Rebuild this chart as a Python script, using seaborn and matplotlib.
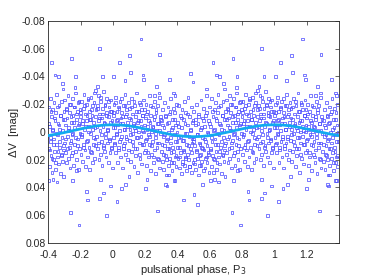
import numpy as np
import pandas as pd
import matplotlib
matplotlib.use("Agg")
import matplotlib.pyplot as plt
import seaborn as sns

# ---- data: base phases (x1000) in [0,1) and dV (mmag) ----
phase_dense = [
    2,5,7,10,13,15,18,21,23,26,29,31,34,37,39,42,45,48,50,53,56,58,61,64,66,69,72,75,77,80,83,86,89,92,95,98,
    101,104,106,109,112,115,117,120,123,125,128,131,134,136,139,142,145,147,150,153,155,158,161,164,166,169,172,174,177,180,183,185,188,191,194,197,
    200,203,206,208,211,214,216,219,222,225,227,230,233,235,238,241,244,246,249,252,255,257,260,263,265,268,271,274,276,279,282,285,287,290,293,296,
    301,303,306,309,312,314,317,320,322,325,328,331,333,336,339,342,344,347,350,353,355,358,361,363,366,369,372,374,377,380,383,385,388,391,394,397,
    401,404,406,409,412,414,417,420,423,425,428,431,433,436,439,442,444,447,450,452,455,458,461,463,466,469,472,474,477,480,483,485,488,491,494,497,
    500,502,505,508,511,513,516,519,521,524,527,530,532,535,538,541,543,546,549,551,554,557,560,562,565,568,571,573,576,579,582,584,587,590,593,596,
    601,603,606,609,612,614,617,620,623,625,628,631,633,636,639,642,644,647,650,652,655,658,661,663,666,669,672,674,677,680,683,685,688,691,694,697,
    700,703,705,708,711,714,716,719,722,724,727,730,733,735,738,741,743,746,749,752,754,757,760,763,765,768,771,773,776,779,782,784,787,790,793,796,
    800,803,806,808,811,814,817,819,822,825,827,830,833,836,838,841,844,846,849,852,855,857,860,863,865,868,871,874,876,879,882,885,887,890,893,896,
    901,903,906,909,912,914,917,920,922,925,928,931,933,936,939,942,944,947,950,952,955,958,961,963,966,969,972,974,977,980,983,985,988,991,994,997,
]
dv_dense = [
    -12,4,-20,9,-3,15,-25,-8,2,-15,22,-5,11,-18,-1,7,-22,18,-10,3,-14,26,-6,12,-19,-2,8,-27,16,-11,5,-16,20,-4,13,-21,
    6,-17,-2,21,-9,14,-24,1,-13,10,-6,25,-19,-3,17,-11,4,-28,12,-7,29,-15,0,8,-21,19,-8,3,-16,23,-1,-12,9,-23,15,-5,
    -10,13,-20,5,24,-4,-15,18,2,-26,9,-7,28,-12,0,16,-18,7,-3,22,-9,13,-22,4,30,-14,-1,11,-19,19,-6,8,-25,26,-11,1,
    14,-8,21,-16,3,27,-3,10,-21,17,-11,6,31,-6,12,-18,24,0,-13,19,8,-24,15,-2,28,-9,11,-17,22,2,-14,18,-5,25,-20,7,
    -7,19,4,-19,26,11,-12,15,-3,30,-16,21,6,-9,13,-22,24,1,18,-14,9,28,-5,16,-25,20,3,-11,25,-1,12,-18,29,8,-7,22,
    5,-15,23,10,-9,27,-20,14,2,19,-6,31,-13,8,24,-2,16,-23,11,21,-10,4,28,-17,13,-4,26,7,-12,18,-26,22,0,15,-8,29,
    -18,12,-4,25,-24,7,17,-11,29,-1,-16,20,5,-21,14,-8,27,-14,9,-27,18,2,-6,23,-19,11,-2,30,-12,16,-22,4,21,-9,13,-15,
    8,-23,15,-5,-17,22,-10,3,-26,19,-1,-14,11,26,-20,6,-7,17,-24,1,-12,24,-18,9,-3,-28,14,-9,20,-15,5,-21,27,-6,12,-16,
    -11,16,-22,2,-6,21,-17,9,-27,-2,13,-13,25,-8,-20,6,18,-24,-4,11,-15,27,-9,1,-25,15,-12,22,-19,4,-7,-28,19,-3,10,-16,
    3,-19,12,-8,-26,20,-13,-1,16,-22,7,-10,24,-17,-4,10,-29,14,-6,-20,1,18,-14,-24,8,-2,22,-11,-18,5,15,-23,-7,11,-15,26,
]
phase_core = [
    1,6,12,17,22,28,33,38,44,49,55,60,65,71,76,82,87,93,
    104,109,115,120,126,131,137,142,148,153,159,164,170,175,181,186,192,197,
    201,207,212,218,223,229,234,240,245,251,256,262,267,273,278,284,289,295,
    304,310,315,321,326,332,337,343,348,354,359,365,370,376,381,387,392,398,
    403,408,414,419,425,430,436,441,447,452,458,463,469,474,480,485,491,496,
    502,507,513,518,524,529,535,540,546,551,557,562,568,573,579,584,590,595,
    601,606,612,617,623,628,634,639,645,650,656,661,667,672,678,683,689,694,
    703,708,714,719,725,730,736,741,747,752,758,763,769,774,780,785,791,796,
    802,807,813,818,824,829,835,840,846,851,857,862,868,873,879,884,890,895,
    902,907,913,918,924,929,935,940,946,951,957,962,968,973,979,984,990,995,
]
dv_core = [
    -3,-14,8,-21,1,-9,13,-17,-6,5,-24,-11,10,-2,-19,3,-13,-7,
    -10,2,-18,7,-5,-22,12,-1,-15,4,-8,16,-20,-4,9,-12,0,-16,
    6,-13,-2,15,-8,3,-19,10,-4,18,-11,1,-16,8,-6,20,-1,-9,
    9,-5,16,2,-12,20,5,-7,12,-15,4,22,-3,14,-9,7,17,0,
    11,-4,18,3,-10,23,6,14,-6,19,1,-13,10,25,-2,15,5,-8,
    7,20,-5,13,2,-11,17,9,24,-3,12,-8,5,19,-14,10,1,16,
    -6,13,4,-15,19,-2,9,-10,22,1,-18,14,-5,7,-12,17,-1,10,
    -9,5,-16,12,-3,-20,8,-11,2,15,-7,-18,4,-13,10,-5,-22,1,
    -14,3,-8,11,-19,-4,7,-12,-23,0,-9,14,-16,-2,9,-21,5,-11,
    -4,-17,8,-10,-25,2,-13,11,-7,-19,4,-12,-1,-22,6,-15,12,-8,
]
phase_sparse = [175,919,290,745,105,620,40,642,769,936,6,111,187,192,270,353,481,497,580,662,
                377,385,687,692,894,906,766,286,257,75,
                791,738,960,26,278,837,843,919,940,985,54,80,200,328,336,379,440,503,526,555,
                605,923,212,100,344,385,629,654,695,749,774]
dv_sparse = [-67,-60,-56,-53,-55,-50,-50,-41,-40,-40,-40,-43,-41,-38,-33,-38,-42,-36,-31,-40,
             -28,-26,-35,-31,-30,-33,-32,-28,-26,-37,
             67,58,60,50,57,43,49,48,44,39,41,38,41,38,39,35,49,45,52,38,
             35,34,34,32,31,35,34,36,32,35,28]

# fitted curve (phase, dV in mmag)
fit_phase = [-0.40,-0.35,-0.30,-0.25,-0.20,-0.15,-0.10,-0.05,0.00,0.05,0.10,0.15,0.20,0.25,0.30,0.35,
             0.40,0.45,0.50,0.55,0.60,0.65,0.70,0.75,0.80,0.85,0.90,0.95,1.00,1.05,1.10,1.15,1.20,
             1.25,1.30,1.35,1.40]
fit_dv = [2.6,1.6,0.4,-0.9,-2.2,-3.4,-4.4,-5.0,-5.2,-5.0,-4.4,-3.4,-2.2,-0.9,0.4,1.6,
          2.6,3.2,3.4,3.2,2.6,1.6,0.4,-0.9,-2.2,-3.4,-4.4,-5.0,-5.2,-5.0,-4.4,-3.4,-2.2,
          -0.9,0.4,1.6,2.6]

xticks = [-0.4,-0.2,0,0.2,0.4,0.6,0.8,1.0,1.2]
xticklabels = ['-0.4','-0.2','0','0.2','0.4','0.6','0.8','1','1.2']
yticks = [-0.08,-0.06,-0.04,-0.02,0,0.02,0.04,0.06,0.08]
yticklabels = ['-0.08','-0.06','-0.04','-0.02','0','0.02','0.04','0.06','0.08']

# ---- build table: each base phase is shown at phase-1, phase, phase+1 ----
base_p = np.array(phase_dense + phase_core + phase_sparse) / 1000.0
base_v = np.array(dv_dense + dv_core + dv_sparse) / 1000.0
xs, ys = [], []
for shift in (-1, 0, 1):
    p = base_p + shift
    m = (p >= -0.4) & (p <= 1.4)
    xs.append(p[m]); ys.append(base_v[m])
df = pd.DataFrame({"phase": np.concatenate(xs), "dv": np.concatenate(ys)})
fit = pd.DataFrame({"phase": fit_phase, "dv": np.array(fit_dv) / 1000.0})

sns.set_style("white")
plt.rcParams['font.family'] = ['Liberation Sans', 'DejaVu Sans']
dark = (0.15, 0.15, 0.15)

fig = plt.figure(figsize=(3.74, 2.79), dpi=100)
ax = fig.add_axes([0.129, 0.129, 0.777, 0.796])

sns.scatterplot(data=df, x="phase", y="dv", ax=ax, marker="s", s=4,
                facecolors="none", edgecolor=(0.3, 0.3, 1.0, 0.75), linewidth=0.7,
                legend=False, zorder=2)
sns.lineplot(data=fit, x="phase", y="dv", ax=ax, color="#12aaf0", linewidth=2.0,
             zorder=3, legend=False)

ax.set_xlim(-0.4, 1.4)
ax.set_ylim(0.08, -0.08)
ax.set_xticks(xticks)
ax.set_xticklabels(xticklabels)
ax.set_yticks(yticks)
ax.set_yticklabels(yticklabels)
ax.tick_params(direction="in", length=3, width=0.5, colors=dark, labelsize=7.5,
               top=True, right=True)
ax.tick_params(axis="x", pad=5)
ax.tick_params(axis="y", pad=2)
for s in ax.spines.values():
    s.set_linewidth(0.6)
    s.set_color(dark)
    s.set_visible(True)
ax.set_xlabel("pulsational phase, P$_3$", fontsize=8, color=dark, labelpad=2)
ax.set_ylabel("\u0394V  [mag]", fontsize=8, color=dark, labelpad=2)

fig.savefig("out.png", dpi=100)
